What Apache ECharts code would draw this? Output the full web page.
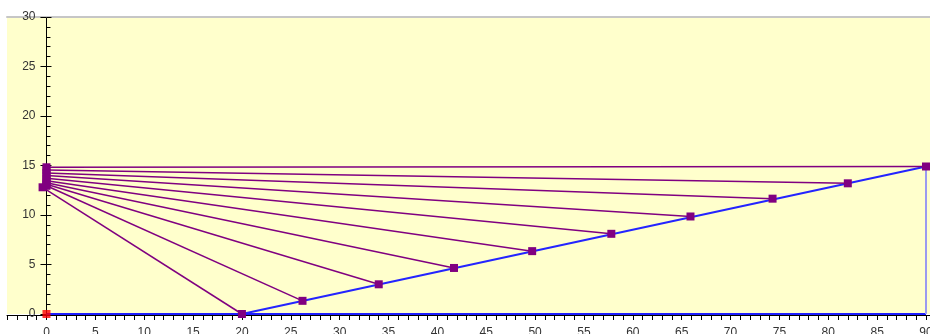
<!DOCTYPE html>
<html>
<head>
<meta charset="utf-8">
<script src="https://cdn.jsdelivr.net/npm/echarts@6/dist/echarts.min.js"></script>
<style>
  html, body { margin: 0; padding: 0; background: #ffffff; }
  #chart { width: 930px; height: 334px; }
</style>
</head>
<body>
<div id="chart"></div>
<script>
// Ray start points (left cluster) and end points (on the ramp)
const startX = [-0.4, 0, 0, 0, 0, 0, 0, 0, 0, 0];
const startY = [12.8, 12.95, 13.1, 13.25, 13.45, 13.7, 14.0, 14.25, 14.55, 14.82];
const endX   = [20, 26.2, 34, 41.7, 49.7, 57.8, 65.9, 74.3, 82, 90];
const endY   = [0, 1.33, 3.0, 4.65, 6.35, 8.1, 9.85, 11.65, 13.2, 14.9];

// Floor, ramp and right wall
const floorX = [0, 90];
const floorY = [0, 0];
const wallX  = [90, 90];
const wallY  = [0, 14.9];

// Origin point
const originX = [0];
const originY = [0];

// Axis ranges and tick labels
const xRange = [-4.04, 90.41];
const yRange = [0, 30];
const xLabelValues = [0, 5, 10, 15, 20, 25, 30, 35, 40, 45, 50, 55, 60, 65, 70, 75, 80, 85, 90];
const xTickValues = [];
for (let v = -4; v <= 90; v++) xTickValues.push(v);

// Pixel distance from the grid's left edge to x = 0, where the y axis sits
const gridLeft = 7;
const gridWidth = 930 - gridLeft;
const yAxisShift = -(0 - xRange[0]) / (xRange[1] - xRange[0]) * gridWidth;

const purple = '#800080';
const series = [];

series.push({
  name: 'floor', type: 'line', clip: false, symbol: 'none', z: 2,
  data: floorX.map((x, i) => [x, floorY[i]]),
  lineStyle: { color: '#1e1eff', width: 2 }
});
series.push({
  name: 'ramp', type: 'line', clip: false, symbol: 'none', z: 2,
  data: [[endX[0], endY[0]], [endX[endX.length - 1], endY[endY.length - 1]]],
  lineStyle: { color: '#2424ff', width: 2 }
});
series.push({
  name: 'wall', type: 'line', clip: false, symbol: 'none', z: 2,
  data: wallX.map((x, i) => [x, wallY[i]]),
  lineStyle: { color: '#9a9af0', width: 2 }
});

for (let i = 0; i < startX.length; i++) {
  series.push({
    name: 'ray' + i, type: 'line', clip: false, z: 3,
    symbol: 'rect', symbolSize: 8, showAllSymbol: true,
    data: [[startX[i], startY[i]], [endX[i], endY[i]]],
    lineStyle: { color: purple, width: 1.5 },
    itemStyle: { color: purple }
  });
}

series.push({
  name: 'origin', type: 'scatter', clip: false, z: 5,
  symbol: 'rect', symbolSize: 8,
  data: originX.map((x, i) => [x, originY[i]]),
  itemStyle: { color: '#ff0000' }
});

const labelFont = { fontFamily: 'Liberation Sans, Arial, sans-serif', fontSize: 12, color: '#333333' };

const chart = echarts.init(document.getElementById('chart'), null, { renderer: 'canvas' });
chart.setOption({
  animation: false,
  backgroundColor: '#ffffff',
  grid: {
    left: gridLeft, right: 0, top: 17, bottom: 20,
    containLabel: false, outerBoundsMode: 'none',
    show: true, backgroundColor: '#ffffcc', borderWidth: 0
  },
  xAxis: [
    {
      type: 'value', position: 'bottom', offset: 1,
      min: xRange[0], max: xRange[1],
      axisLine: { show: true, onZero: false, lineStyle: { color: '#000000', width: 1 } },
      axisTick: { show: true, inside: false, length: 5, customValues: xTickValues, lineStyle: { color: '#000000' } },
      axisLabel: Object.assign({ show: true, margin: 12, customValues: xLabelValues }, labelFont),
      splitLine: { show: false }
    },
    {
      type: 'value', position: 'top',
      min: xRange[0], max: xRange[1],
      axisLine: { show: true, onZero: false, lineStyle: { color: '#c6c6c6', width: 2 } },
      axisTick: { show: false },
      axisLabel: { show: false },
      splitLine: { show: false }
    }
  ],
  yAxis: [
    {
      type: 'value', position: 'left', offset: yAxisShift,
      min: yRange[0], max: yRange[1], interval: 5,
      axisLine: { show: true, onZero: false, lineStyle: { color: '#000000', width: 1 } },
      axisTick: { show: true, inside: true, length: 5, lineStyle: { color: '#000000' } },
      minorTick: { show: true, splitNumber: 5, length: 4, lineStyle: { color: '#000000' } },
      axisLabel: Object.assign({ show: true, margin: 11 }, labelFont),
      splitLine: { show: false }
    },
    {
      type: 'value', position: 'left', offset: yAxisShift,
      min: yRange[0], max: yRange[1], interval: 5,
      axisLine: { show: false, onZero: false },
      axisTick: { show: true, inside: false, length: 6, lineStyle: { color: '#000000' } },
      axisLabel: { show: false },
      splitLine: { show: false }
    }
  ],
  series: series
});
</script>
</body>
</html>
